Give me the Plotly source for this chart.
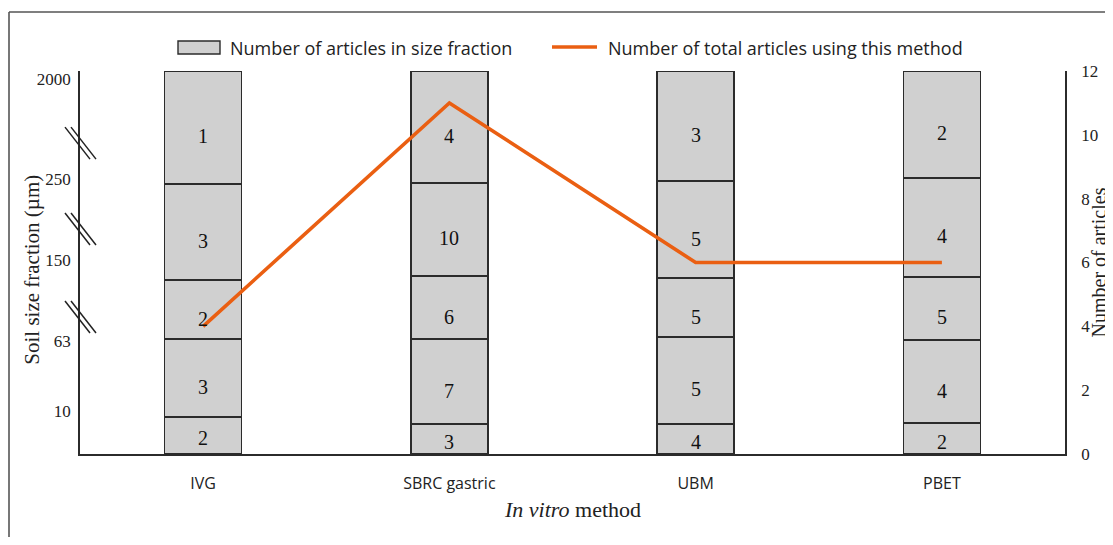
import plotly.graph_objects as go

# ---------------- data ----------------
methods = ["IVG", "SBRC gastric", "UBM", "PBET"]
total_articles = [4, 11, 6, 6]

# size fractions, from bottom (finest) to top (coarsest)
fractions = ["<10 µm", "10-63 µm", "63-150 µm", "150-250 µm", "250-2000 µm"]
# number of articles in each size fraction, per method (bottom -> top)
articles_by_method = {
    "IVG":          [2, 3, 2, 3, 1],
    "SBRC gastric": [3, 7, 6, 10, 4],
    "UBM":          [4, 5, 5, 5, 3],
    "PBET":         [2, 4, 5, 4, 2],
}
# upper edge of each size-fraction block on the (broken) size axis, per method
fraction_edges = {
    "IVG":          [1.16, 3.60, 5.45, 8.46, 12.0],
    "SBRC gastric": [0.94, 3.60, 5.58, 8.49, 12.0],
    "UBM":          [0.94, 3.67, 5.51, 8.55, 12.0],
    "PBET":         [0.97, 3.57, 5.55, 8.65, 12.0],
}
size_tick_labels = ["10", "63", "150", "250", "2000"]
size_tick_positions = [1.35, 3.54, 6.08, 8.62, 11.75]
axis_breaks = [4.29, 7.05, 9.74]

right_ticks = [0, 2, 4, 6, 8, 10, 12]

# ---------------- style ----------------
GREY = "#D0D0D0"
EDGE = "#2b2b2b"
ORANGE = "#EA5F12"
SERIF = "Liberation Serif, Times New Roman, serif"
SANS = "Open Sans, Noto Sans, sans-serif"

fig = go.Figure()

# stacked blocks: one trace per size fraction
for i, frac in enumerate(fractions):
    heights = []
    for m in methods:
        edges = [0.0] + fraction_edges[m]
        heights.append(edges[i + 1] - edges[i])
    fig.add_trace(go.Bar(
        x=methods, y=heights, name=frac,
        marker=dict(color=GREY, line=dict(color=EDGE, width=1.4)),
        width=0.313, showlegend=False, hoverinfo="skip",
    ))

# total articles line (right axis)
fig.add_trace(go.Scatter(
    x=methods, y=total_articles, yaxis="y2", mode="lines",
    line=dict(color=ORANGE, width=3.6),
    name="Number of total articles using this method", showlegend=False,
))

annotations = []
# numbers inside blocks
for m in methods:
    edges = [0.0] + fraction_edges[m]
    for i, n in enumerate(articles_by_method[m]):
        mid = (edges[i] + edges[i + 1]) / 2
        h = edges[i + 1] - edges[i]
        shift = -9 if h > 1.5 else -3
        annotations.append(dict(
            x=m, y=mid, xref="x", yref="y", text=str(n), showarrow=False,
            yshift=shift, font=dict(family=SERIF, size=20, color="#111"),
        ))

# axis titles
annotations.append(dict(
    x=-0.0482, y=0.48, xref="paper", yref="paper", text="Soil size fraction (µm)",
    textangle=-90, showarrow=False, xanchor="center", yanchor="middle",
    font=dict(family=SERIF, size=21, color="#222"),
))
annotations.append(dict(
    x=(1098 - 80) / 985, y=0.5, xref="paper", yref="paper", text="Number of articles",
    textangle=-90, showarrow=False, xanchor="center", yanchor="middle",
    font=dict(family=SERIF, size=20, color="#222"),
))
annotations.append(dict(
    x=0.5, y=-0.146, xref="paper", yref="paper", text="<i>In vitro</i> method",
    showarrow=False, xanchor="center", yanchor="middle",
    font=dict(family=SERIF, size=22, color="#222"),
))

# custom legend texts
annotations.append(dict(
    x=(228 - 80) / 985, y=1.060, xref="paper", yref="paper",
    text="Number of articles in size fraction", showarrow=False,
    xanchor="left", yanchor="middle", font=dict(family=SANS, size=18, color="#222"),
))
annotations.append(dict(
    x=(606 - 80) / 985, y=1.060, xref="paper", yref="paper",
    text="Number of total articles using this method", showarrow=False,
    xanchor="left", yanchor="middle", font=dict(family=SANS, size=18, color="#222"),
))

shapes = []
# legend symbols
shapes.append(dict(type="rect", xref="paper", yref="paper",
                   x0=(178 - 80) / 985, x1=(220 - 80) / 985,
                   y0=(454 - 54) / 383, y1=(454 - 41) / 383,
                   fillcolor=GREY, line=dict(color=EDGE, width=1.4)))
shapes.append(dict(type="line", xref="paper", yref="paper",
                   x0=(552 - 80) / 985, x1=(597 - 80) / 985,
                   y0=(454 - 47) / 383, y1=(454 - 47) / 383,
                   line=dict(color=ORANGE, width=3.6)))

# axis-break marks on the size axis
for yb in axis_breaks:
    for dx in (-3, 3):
        shapes.append(dict(type="line", xref="paper", yref="y",
                           xsizemode="pixel", ysizemode="pixel",
                           xanchor=0, yanchor=yb,
                           x0=-12 + dx, x1=13 + dx, y0=16, y1=-16,
                           line=dict(color="#222", width=1.5)))

# outer frame (top and left edges)
fx = (9 - 80) / 985
fy = (454 - 12) / 383
shapes.append(dict(type="line", xref="paper", yref="paper",
                   x0=fx, x1=(1113 - 80) / 985, y0=fy, y1=fy,
                   line=dict(color="#555", width=1.6)))
shapes.append(dict(type="line", xref="paper", yref="paper",
                   x0=fx, x1=fx, y0=fy, y1=(454 - 545) / 383,
                   line=dict(color="#555", width=1.6)))

# the page body adds an 8px margin, so the figure is offset by 8px
fig.update_layout(
    width=1105, height=529,
    margin=dict(l=72, r=48, t=63, b=83),
    paper_bgcolor="white", plot_bgcolor="white",
    barmode="stack", bargap=0.687,
    showlegend=False,
    xaxis=dict(
        type="category", showline=True, linecolor=EDGE, linewidth=1.6,
        showgrid=False, ticks="", ticklabelstandoff=14,
        tickfont=dict(family=SANS, size=16, color="#222"),
    ),
    yaxis=dict(
        range=[0, 12], showline=True, linecolor=EDGE, linewidth=1.6,
        showgrid=False, zeroline=False, ticks="",
        tickvals=size_tick_positions, ticktext=size_tick_labels,
        ticklabelstandoff=4,
        tickfont=dict(family=SERIF, size=17, color="#222"),
    ),
    yaxis2=dict(
        range=[0, 12], overlaying="y", side="right", showline=True,
        linecolor=EDGE, linewidth=1.6, showgrid=False, zeroline=False,
        ticks="", tickvals=right_ticks, ticklabelstandoff=11,
        tickfont=dict(family=SERIF, size=17, color="#222"),
    ),
    annotations=annotations,
    shapes=shapes,
)

fig.write_html("out.html")
